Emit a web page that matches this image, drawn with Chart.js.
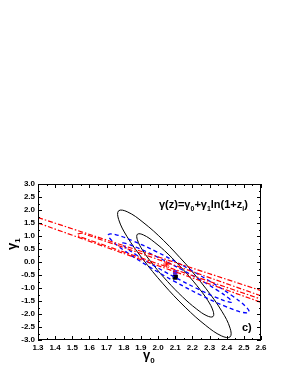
<!DOCTYPE html>
<html>
<head>
<meta charset="UTF-8">
<title>gamma(z) contours</title>
<script src="https://cdn.jsdelivr.net/npm/chart.js@4.4.1/dist/chart.umd.min.js"></script>
<style>
	body { margin: 0; background: #fff; }
	canvas { display: block; }
</style>
</head>
<body>
<canvas id="contourChart" width="287" height="372"></canvas>
<script>
	// axis ticks
	var xTicks = [1.3, 1.4, 1.5, 1.6, 1.7, 1.8, 1.9, 2.0, 2.1, 2.2, 2.3, 2.4, 2.5, 2.6];
	var yTicks = [-3.0, -2.5, -2.0, -1.5, -1.0, -0.5, 0.0, 0.5, 1.0, 1.5, 2.0, 2.5, 3.0];

	// black solid contours (gamma0, gamma1)
	var blackOuter = [[2.161,-0.072],[2.280,-1.030],[2.372,-1.898],[2.420,-2.549],[2.420,-2.880],[2.370,-2.843],[2.278,-2.440],[2.158,-1.738],[2.029,-0.838],[1.910,0.120],[1.818,0.988],[1.770,1.639],[1.770,1.970],[1.820,1.933],[1.912,1.530],[2.032,0.828],[2.161,-0.072]];
	var blackInner = [[2.145,-0.281],[2.226,-0.906],[2.289,-1.471],[2.321,-1.890],[2.320,-2.100],[2.285,-2.070],[2.223,-1.801],[2.142,-1.338],[2.055,-0.749],[1.974,-0.124],[1.911,0.441],[1.879,0.860],[1.880,1.070],[1.915,1.040],[1.977,0.771],[2.058,0.308],[2.145,-0.281]];

	// blue dashed contours
	var blueOuter = [[2.145,-0.137],[2.300,-0.731],[2.428,-1.279],[2.509,-1.701],[2.530,-1.930],[2.489,-1.933],[2.392,-1.707],[2.254,-1.291],[2.095,-0.743],[1.940,-0.149],[1.812,0.399],[1.731,0.821],[1.710,1.050],[1.751,1.053],[1.848,0.827],[1.986,0.411],[2.145,-0.137]];
	var blueInner = [[2.124,-0.241],[2.246,-0.687],[2.346,-1.090],[2.411,-1.389],[2.430,-1.540],[2.401,-1.519],[2.326,-1.328],[2.220,-0.999],[2.096,-0.579],[1.974,-0.133],[1.874,0.270],[1.809,0.569],[1.790,0.720],[1.819,0.699],[1.894,0.508],[2.000,0.179],[2.124,-0.241]];

	// red dash-dot contours
	var redOuterTop = [[1.3,1.71],[2.6,-1.10]];
	var redOuterBottom = [[1.3,1.50],[2.6,-1.55]];
	var redInner = [[2.6,-1.30],[1.56,1.10],[1.535,1.08],[1.53,1.03],[1.545,0.97],[2.6,-1.43]];

	// best fit points
	var starPoint = [[2.05,-0.08]];
	var bluePoint = [[2.10,-0.40]];
	var blackPoint = [[2.10,-0.58]];

	var FONT = "'Liberation Sans', Arial, sans-serif";

	function pts(arr) {
		return arr.map(function (p) { return {x: p[0], y: p[1]}; });
	}

	function contour(arr, colour, dash, width) {
		return {
			data: pts(arr),
			showLine: true,
			borderColor: colour,
			borderWidth: width,
			borderDash: dash,
			pointRadius: 0,
			tension: 0.4,
			fill: false
		};
	}

	function marker(arr, colour, style, radius) {
		return {
			data: pts(arr),
			showLine: false,
			pointStyle: style,
			pointRadius: radius,
			backgroundColor: colour,
			borderColor: colour,
			borderWidth: 1
		};
	}

	// draws a run of [text, isSubscript] pieces, returns end x
	function drawRich(ctx, parts, x, y, size) {
		parts.forEach(function (p) {
			if (p[1]) {
				ctx.font = "bold " + Math.round(size * 0.65) + "px " + FONT;
				ctx.fillText(p[0], x, y + size * 0.3);
			} else {
				ctx.font = "bold " + size + "px " + FONT;
				ctx.fillText(p[0], x, y);
			}
			x += ctx.measureText(p[0]).width;
		});
		return x;
	}

	var frameTicks = {
		id: 'frameTicks',
		afterDatasetsDraw: function (chart) {
			var ctx = chart.ctx, a = chart.chartArea;
			var xs = chart.scales.x, ys = chart.scales.y;
			ctx.save();
			ctx.strokeStyle = '#000';
			ctx.lineWidth = 1;
			ctx.strokeRect(Math.round(a.left) + 0.5, Math.round(a.top) + 0.5, Math.round(a.right - a.left) - 1, Math.round(a.bottom - a.top) - 1);
			ctx.beginPath();
			for (var i = 0; i <= 26; i++) {
				var px = Math.round(xs.getPixelForValue(1.3 + i * 0.05)) + 0.5;
				var len = i % 2 === 0 ? 4 : 2;
				ctx.moveTo(px, a.bottom); ctx.lineTo(px, a.bottom - len);
				ctx.moveTo(px, a.top); ctx.lineTo(px, a.top + len);
			}
			for (var j = 0; j <= 24; j++) {
				var py = Math.round(ys.getPixelForValue(-3 + j * 0.25)) + 0.5;
				var l2 = j % 2 === 0 ? 4 : 2;
				ctx.moveTo(a.left, py); ctx.lineTo(a.left + l2, py);
				ctx.moveTo(a.right, py); ctx.lineTo(a.right - l2, py);
			}
			ctx.stroke();
			ctx.restore();
		},
		afterDraw: function (chart) {
			var ctx = chart.ctx;
			ctx.save();
			ctx.fillStyle = '#000';
			ctx.textBaseline = 'alphabetic';
			ctx.textAlign = 'left';
			// formula
			drawRich(ctx, [['\u03b3(z)=\u03b3', false], ['0', true], ['+\u03b3', false], ['1', true], ['ln(1+z', false], ['i', true], [')', false]], 159, 208, 11);
			// panel label
			ctx.font = "bold 11px " + FONT;
			ctx.fillText('c)', 242, 331);
			// x title
			drawRich(ctx, [['\u03b3', false], ['0', true]], 143, 359, 13);
			// y title
			ctx.translate(16, 250);
			ctx.rotate(-Math.PI / 2);
			drawRich(ctx, [['\u03b3', false], ['1', true]], 0, 0, 13);
			ctx.restore();
		}
	};

	var tickFont = {family: FONT, size: 8, weight: 'bold'};

	var ctx = document.getElementById('contourChart').getContext('2d');
	var contourChart = new Chart(ctx, {
		type: 'scatter',
		data: {
			datasets: [
				contour(redOuterTop, '#ff0000', [5, 2, 1.5, 2], 1.2),
				contour(redOuterBottom, '#ff0000', [5, 2, 1.5, 2], 1.2),
				contour(redInner, '#ff0000', [5, 2, 1.5, 2], 1.2),
				contour(blueOuter, '#0000ff', [4, 3], 1.3),
				contour(blueInner, '#0000ff', [4, 3], 1.3),
				contour(blackOuter, '#000000', [], 1),
				contour(blackInner, '#000000', [], 1),
				marker(starPoint, '#ff0000', 'star', 3.5),
				marker(bluePoint, '#5a1ad0', 'rect', 2.5),
				marker(blackPoint, '#000000', 'rect', 3)
			]
		},
		options: {
			responsive: false,
			animation: false,
			layout: {padding: {top: 184, right: 26, bottom: 0, left: 0}},
			plugins: {legend: {display: false}, tooltip: {enabled: false}},
			scales: {
				x: {
					type: 'linear', min: 1.3, max: 2.6,
					afterBuildTicks: function (s) { s.ticks = xTicks.map(function (v) { return {value: v}; }); },
					afterFit: function (s) { s.height = 32; },
					ticks: {callback: function (v) { return Number(v).toFixed(1); }, font: tickFont, color: '#000', padding: 3, maxRotation: 0, autoSkip: false},
					grid: {display: false, drawTicks: false},
					border: {display: false}
				},
				y: {
					type: 'linear', min: -3, max: 3,
					afterBuildTicks: function (s) { s.ticks = yTicks.map(function (v) { return {value: v}; }); },
					afterFit: function (s) { s.width = 38; },
					ticks: {callback: function (v) { return Number(v).toFixed(1); }, font: tickFont, color: '#000', padding: 3, autoSkip: false},
					grid: {display: false, drawTicks: false},
					border: {display: false}
				}
			}
		},
		plugins: [frameTicks]
	});
</script>
</body>
</html>
